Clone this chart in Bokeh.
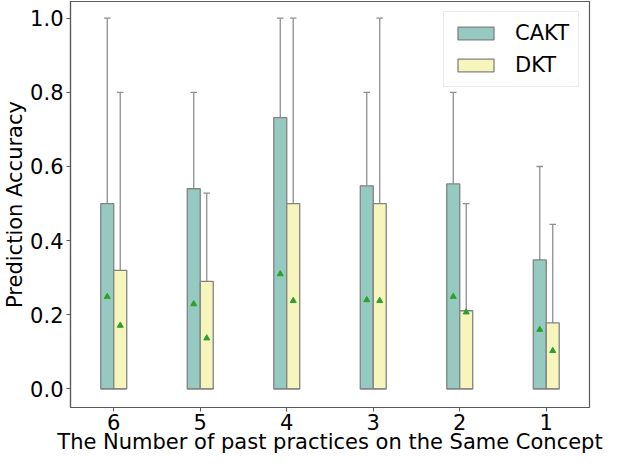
from bokeh.plotting import figure
from bokeh.models import (ColumnDataSource, FactorRange, Range1d, FixedTicker,
                          PrintfTickFormatter, Legend, LegendItem)
from bokeh.transform import dodge
from bokeh.embed import file_html
from bokeh.resources import INLINE

# ---- data ----
categories = ["6", "5", "4", "3", "2", "1"]
cakt_q1 = [0.0, 0.0, 0.0, 0.0, 0.0, 0.0]
cakt_q3 = [0.50, 0.54, 0.732, 0.548, 0.553, 0.348]
cakt_max = [1.0, 0.8, 1.0, 0.8, 0.8, 0.6]
cakt_mean = [0.249, 0.229, 0.31, 0.24, 0.249, 0.16]
dkt_q1 = [0.0, 0.0, 0.0, 0.0, 0.0, 0.0]
dkt_q3 = [0.32, 0.29, 0.50, 0.50, 0.211, 0.178]
dkt_max = [0.8, 0.528, 1.0, 1.0, 0.5, 0.444]
dkt_mean = [0.171, 0.137, 0.238, 0.238, 0.207, 0.103]
y_ticks = [0.0, 0.2, 0.4, 0.6, 0.8, 1.0]
series_names = ["CAKT", "DKT"]

FONT = "DejaVu Sans"
FS = "21px"
EDGE = "#828282"
WHISK = "#8e8e8e"
COLORS = ["#96cac1", "#f5f5bc"]
MEAN_C = "#2ca02c"

p = figure(width=608, height=456, x_range=FactorRange(factors=categories),
           y_range=Range1d(-0.05, 1.045), output_backend="svg",
           toolbar_location=None, min_border_left=58, min_border_right=19,
           min_border_top=1, min_border_bottom=40)

BW = 0.15
offsets = [-0.075, 0.075]
series = [
    (cakt_q1, cakt_q3, cakt_max, cakt_mean),
    (dkt_q1, dkt_q3, dkt_max, dkt_mean),
]
renderers = []
for (q1, q3, mx, mn), off, col in zip(series, offsets, COLORS):
    src = ColumnDataSource(dict(cat=categories, q1=q1, q3=q3, mx=mx, mn=mn))
    # whisker
    p.segment(x0=dodge("cat", off, range=p.x_range), y0="q3",
              x1=dodge("cat", off, range=p.x_range), y1="mx",
              source=src, line_color=WHISK, line_width=1.3)
    # cap
    p.segment(x0=dodge("cat", off - BW / 4, range=p.x_range), y0="mx",
              x1=dodge("cat", off + BW / 4, range=p.x_range), y1="mx",
              source=src, line_color=WHISK, line_width=1.3)
    # box
    r = p.vbar(x=dodge("cat", off, range=p.x_range), width=BW, bottom="q1",
               top="q3", source=src, fill_color=col, line_color=EDGE,
               line_width=1.3)
    renderers.append(r)
    # median line (at zero)
    p.segment(x0=dodge("cat", off - BW / 2, range=p.x_range), y0="q1",
              x1=dodge("cat", off + BW / 2, range=p.x_range), y1="q1",
              source=src, line_color=EDGE, line_width=1.3)
    # mean marker
    p.scatter(x=dodge("cat", off, range=p.x_range), y="mn", source=src,
              marker="triangle", size=6, fill_color=MEAN_C,
              line_color=MEAN_C)

# axes
p.xgrid.visible = False
p.ygrid.visible = False
p.outline_line_color = "#5a5a5a"
p.outline_line_width = 1.2

p.yaxis.ticker = FixedTicker(ticks=y_ticks)
p.yaxis.formatter = PrintfTickFormatter(format="%.1f")
for ax in (p.xaxis[0], p.yaxis[0]):
    ax.major_label_text_font = FONT
    ax.major_label_text_font_size = FS
    ax.major_label_text_color = "black"
    ax.axis_label_text_font = FONT
    ax.axis_label_text_font_size = FS
    ax.axis_label_text_font_style = "normal"
    ax.axis_label_text_color = "black"
    ax.axis_line_color = "#5a5a5a"
    ax.axis_line_width = 1.2
    ax.major_tick_line_color = "#5a5a5a"
    ax.major_tick_out = 4
    ax.major_tick_in = 0
    ax.minor_tick_line_color = None

p.yaxis.major_label_standoff = 3
p.yaxis.axis_label_standoff = 0
p.xaxis.major_label_standoff = 2
p.xaxis.axis_label_standoff = -3

p.xaxis.axis_label = "The Number of past practices on the Same Concept"
p.yaxis.axis_label = "Prediction Accuracy"
p.xaxis.group_text_font_size = FS

legend = Legend(items=[LegendItem(label=series_names[0], renderers=[renderers[0]]),
                       LegendItem(label=series_names[1], renderers=[renderers[1]])],
                location="top_right")
legend.label_text_font = FONT
legend.label_text_font_size = FS
legend.label_text_color = "black"
legend.glyph_width = 45
legend.glyph_height = 16
legend.label_standoff = 17
legend.spacing = 8
legend.padding = 9
legend.margin = 10
legend.border_line_color = "#d6d6d6"
legend.border_line_width = 1
legend.background_fill_alpha = 0.8
p.add_layout(legend)

open("out.html", "w").write(file_html(p, INLINE))
